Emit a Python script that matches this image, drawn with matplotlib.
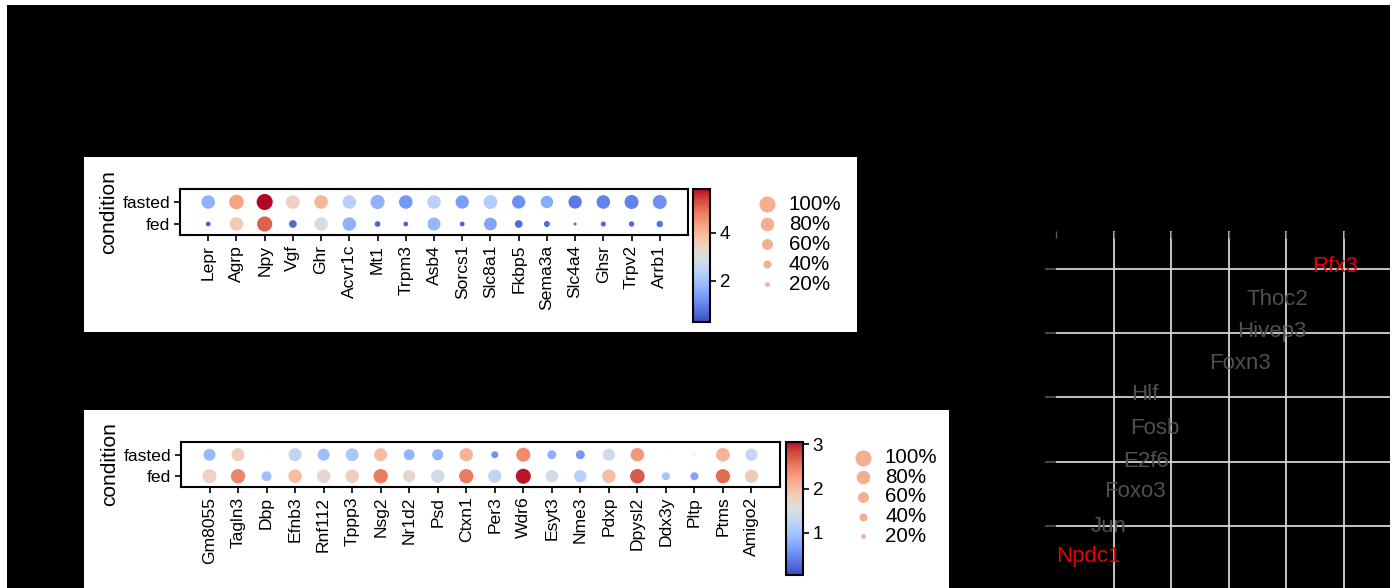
import numpy as np
import matplotlib
matplotlib.use("Agg")
import matplotlib.pyplot as plt
from matplotlib.patches import Rectangle

plt.rcParams['font.family'] = ['Liberation Sans', 'DejaVu Sans']

# ---- top dot plot ----
genes1 = ['Lepr', 'Agrp', 'Npy', 'Vgf', 'Ghr', 'Acvr1c', 'Mt1', 'Trpm3', 'Asb4',
          'Sorcs1', 'Slc8a1', 'Fkbp5', 'Sema3a', 'Slc4a4', 'Ghsr', 'Trpv2', 'Arrb1']
frac_fasted1 = [0.80, 0.88, 1.00, 0.80, 0.80, 0.80, 0.85, 0.80, 0.80,
                0.78, 0.82, 0.78, 0.72, 0.78, 0.80, 0.84, 0.84]
frac_fed1 = [0.20, 0.80, 0.93, 0.38, 0.80, 0.80, 0.25, 0.20, 0.76,
             0.20, 0.74, 0.38, 0.27, 0.11, 0.22, 0.24, 0.30]
expr_fasted1 = [1.7, 4.3, 5.8, 3.5, 4.0, 2.4, 1.7, 1.3, 2.4,
                1.4, 2.3, 1.2, 1.6, 0.9, 1.0, 1.0, 1.2]
expr_fed1 = [0.6, 3.6, 5.1, 0.7, 2.9, 1.7, 0.6, 0.6, 1.8,
             0.6, 1.5, 0.7, 0.7, 0.7, 0.7, 0.7, 0.8]

# ---- bottom dot plot ----
genes2 = ['Gm8055', 'Tagln3', 'Dbp', 'Efnb3', 'Rnf112', 'Tppp3', 'Nsg2', 'Nr1d2',
          'Psd', 'Ctxn1', 'Per3', 'Wdr6', 'Esyt3', 'Nme3', 'Pdxp', 'Dpysl2',
          'Ddx3y', 'Pltp', 'Ptms', 'Amigo2']
frac_fasted2 = [0.68, 0.76, 0.02, 0.76, 0.68, 0.76, 0.76, 0.60, 0.62, 0.78,
                0.33, 0.84, 0.46, 0.46, 0.70, 0.80, 0.015, 0.025, 0.80, 0.70]
frac_fed2 = [0.84, 0.86, 0.53, 0.80, 0.80, 0.80, 0.86, 0.70, 0.78, 0.86,
             0.78, 0.92, 0.72, 0.72, 0.80, 0.88, 0.40, 0.40, 0.86, 0.78]
expr_fasted2 = [0.9, 1.8, 0.8, 1.25, 0.95, 1.05, 2.0, 0.85, 0.85, 2.1,
                0.55, 2.4, 0.8, 0.6, 1.4, 2.3, 1.0, 0.5, 2.1, 1.3]
expr_fed2 = [1.75, 2.45, 0.95, 2.0, 1.65, 1.8, 2.5, 1.7, 1.4, 2.5,
             1.25, 3.0, 1.45, 1.2, 2.0, 2.7, 1.0, 0.7, 2.6, 1.85]

legend_frac = [1.0, 0.8, 0.6, 0.4, 0.2]
legend_labels = ['100%', '80%', '60%', '40%', '20%']

# ---- right panel: ranked gene labels ----
rank_genes = ['Rfx3', 'Thoc2', 'Hivep3', 'Foxn3', 'Hlf', 'Fosb', 'E2f6', 'Foxo3', 'Jun', 'Npdc1']
rank_x = [4.84, 3.84, 3.75, 3.19, 1.55, 1.72, 1.56, 1.37, 0.92, 0.57]
rank_y = [4.03, 3.53, 3.03, 2.53, 2.04, 1.52, 1.00, 0.53, 0.00, -0.48]
rank_highlight = [True, False, False, False, False, False, False, False, False, True]

W, H = 1398, 588
SMAX = 133  # marker area (pt^2) for a fraction of 1


def box(x0, y0, x1, y1):
    # pixel box (top-left origin) -> figure fraction rect
    return [x0 / W, 1 - y1 / H, (x1 - x0) / W, (y1 - y0) / H]


def rect_patch(x0, y0, x1, y1, color, z):
    r = Rectangle((x0 / W, 1 - y1 / H), (x1 - x0) / W, (y1 - y0) / H,
                  transform=fig.transFigure, facecolor=color, edgecolor='none', zorder=z)
    fig.add_artist(r)


def dotplot(ax_px, cb_px, leg_px, genes, ff, fd, ef, ed, vmin, vmax, cticks):
    n = len(genes)
    x = np.arange(n)
    ax = fig.add_axes(box(*ax_px))
    ax.scatter(x, np.ones(n), s=np.array(ff) ** 1.5 * SMAX, c=ef, cmap='coolwarm',
               vmin=vmin, vmax=vmax, linewidths=0)
    sc = ax.scatter(x, np.zeros(n), s=np.array(fd) ** 1.5 * SMAX, c=ed, cmap='coolwarm',
                    vmin=vmin, vmax=vmax, linewidths=0)
    ax.set_xlim(-1, n)
    ax.set_ylim(-0.5, 1.59)
    ax.set_xticks(x)
    ax.set_xticklabels(genes, rotation=90, fontsize=12.6)
    ax.set_yticks([1, 0])
    ax.set_yticklabels(['fasted', 'fed'], fontsize=12.6)
    ax.set_ylabel('condition', fontsize=15, labelpad=3)
    ax.tick_params(length=4, width=1.2, pad=3)
    for s in ax.spines.values():
        s.set_linewidth(1.5)

    cax = fig.add_axes(box(*cb_px))
    cb = fig.colorbar(sc, cax=cax, ticks=cticks)
    cb.ax.tick_params(labelsize=13.5, length=4, width=1.2, pad=3)
    cb.outline.set_linewidth(1.5)

    lax = fig.add_axes(box(*leg_px))
    lax.axis('off')
    lax.set_xlim(0, leg_px[2] - leg_px[0])
    lax.set_ylim(len(legend_frac) - 0.5, -0.5)
    for i, (f, lab) in enumerate(zip(legend_frac, legend_labels)):
        lax.scatter(12, i, s=f ** 1.5 * SMAX, color='#f4ae90', linewidths=0, clip_on=False)
        lax.text(34, i, lab, va='center', ha='left', fontsize=14.8)


fig = plt.figure(figsize=(W / 100, H / 100), dpi=100, facecolor='white')

# black canvas and white panels
rect_patch(7, 5, 1390, 588, 'black', -10)
rect_patch(84, 157, 857, 332, 'white', -5)
rect_patch(84, 410, 949, 588, 'white', -5)

dotplot((180, 189, 688, 235), (693, 189, 710, 322), (755, 194, 850, 294),
        genes1, frac_fasted1, frac_fed1, expr_fasted1, expr_fed1, 0.3, 5.8, [2, 4])
dotplot((181, 442, 780, 487), (786, 442, 803, 575), (851, 448, 946, 546),
        genes2, frac_fasted2, frac_fed2, expr_fasted2, expr_fed2, 0.05, 3.05, [1, 2, 3])

# right panel
rax = fig.add_axes(box(1056, 231, 1390, 588))
rax.set_facecolor('black')
for s in rax.spines.values():
    s.set_visible(False)
rax.set_xlim(0, 5.8)
rax.set_ylim(-0.964, 4.588)
rax.set_xticks([1, 2, 3, 4, 5])
rax.set_xticks([0], minor=True)
rax.set_yticks([0, 1, 2, 3, 4])
rax.set_xticklabels([])
rax.set_yticklabels([])
rax.xaxis.tick_top()
rax.tick_params(axis='x', which='both', direction='in', length=5, width=1, color='#5a5a5a')
rax.tick_params(axis='y', direction='out', length=8, width=1.2, color='#555555')
rax.grid(True, which='major', color='#d4d4d4', linewidth=1.3)
rax.set_axisbelow(True)
for g, gx, gy, hl in zip(rank_genes, rank_x, rank_y, rank_highlight):
    rax.text(gx, gy, g, color='#e8000b' if hl else '#505050', fontsize=16,
             ha='center', va='center')

plt.savefig('out.png', dpi=100, facecolor=fig.get_facecolor())
